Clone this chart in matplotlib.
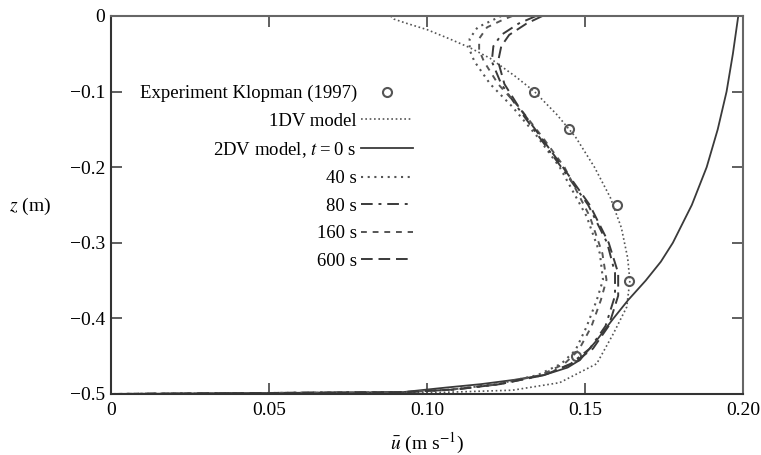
import matplotlib
matplotlib.use("Agg")
import matplotlib.pyplot as plt

plt.rcParams['font.family'] = ['Liberation Serif', 'DejaVu Serif']
plt.rcParams['mathtext.fontset'] = 'stix'

# Experimental data
exp_u = [0.134, 0.145, 0.160, 0.164, 0.147]
exp_z = [-0.10, -0.15, -0.25, -0.35, -0.45]

# 1DV model
z_1dv = [0.0, -0.004, -0.009, -0.018, -0.03, -0.042, -0.056, -0.08, -0.10, -0.13, -0.16,
         -0.20, -0.24, -0.28, -0.32, -0.35, -0.385, -0.42, -0.46, -0.485, -0.495, -0.4985, -0.5]
u_1dv = [0.0885, 0.0895, 0.093, 0.100, 0.107, 0.1136, 0.120, 0.128, 0.134, 0.141, 0.147,
         0.153, 0.158, 0.1615, 0.1635, 0.1642, 0.1632, 0.159, 0.1537, 0.142, 0.127, 0.100, 0.0]

# 2DV model, t = 0 s
z_t0 = [0.0, -0.05, -0.10, -0.15, -0.20, -0.25, -0.30, -0.325, -0.35, -0.376, -0.40, -0.43,
        -0.455, -0.465, -0.475, -0.4815, -0.487, -0.4915, -0.4947, -0.4975, -0.5]
u_t0 = [0.1985, 0.1968, 0.1948, 0.192, 0.1885, 0.1838, 0.1778, 0.1740, 0.1692, 0.1636, 0.159,
        0.1535, 0.1484, 0.1445, 0.137, 0.1272, 0.117, 0.106, 0.0987, 0.0924, 0.0]

# 40 s
z_40 = [0.0, -0.005, -0.015, -0.03, -0.045, -0.06, -0.09, -0.12, -0.16, -0.20, -0.265,
        -0.314, -0.349, -0.376, -0.411, -0.442, -0.46, -0.475, -0.487, -0.494, -0.4975, -0.5]
u_40 = [0.1235, 0.121, 0.116, 0.1135, 0.1135, 0.115, 0.120, 0.127, 0.135, 0.142, 0.1505,
        0.1547, 0.1557, 0.1537, 0.1505, 0.147, 0.1425, 0.135, 0.122, 0.108, 0.093, 0.0]

# 160 s
z_160 = z_40
u_160 = [0.127, 0.124, 0.119, 0.1165, 0.1165, 0.118, 0.1225, 0.129, 0.1365, 0.1435, 0.1515,
         0.1555, 0.1568, 0.155, 0.152, 0.148, 0.1435, 0.136, 0.1225, 0.108, 0.093, 0.0]

# 80 s
z_80 = [0.0, -0.01, -0.025, -0.04, -0.06, -0.09, -0.12, -0.16, -0.20, -0.25, -0.30,
        -0.34, -0.37, -0.41, -0.44, -0.46, -0.475, -0.487, -0.494, -0.4975, -0.5]
u_80 = [0.1345, 0.129, 0.1235, 0.121, 0.1205, 0.1235, 0.1285, 0.1355, 0.1425, 0.151, 0.157,
        0.1595, 0.1595, 0.1565, 0.1515, 0.1455, 0.137, 0.123, 0.109, 0.093, 0.0]

# 600 s
z_600 = z_80
u_600 = [0.1365, 0.1315, 0.126, 0.1235, 0.1225, 0.1245, 0.129, 0.136, 0.143, 0.1515, 0.1575,
         0.1605, 0.1605, 0.1575, 0.1525, 0.146, 0.137, 0.123, 0.109, 0.093, 0.0]

xticks = [0, 0.05, 0.10, 0.15, 0.20]
xticklabels = ['0', '0.05', '0.10', '0.15', '0.20']
yticks = [0, -0.1, -0.2, -0.3, -0.4, -0.5]
yticklabels = ['0', '\u22120.1', '\u22120.2', '\u22120.3', '\u22120.4', '\u22120.5']

W, H = 761, 455
fig = plt.figure(figsize=(W / 100, H / 100), dpi=100)
ax = fig.add_axes([111 / W, 1 - 394 / H, 632 / W, 378 / H])

c = '#3a3a3a'
ax.plot(exp_u, exp_z, linestyle='none', marker='o', markersize=6.5, markerfacecolor='none',
        markeredgecolor='#555555', markeredgewidth=1.5, label='Experiment Klopman (1997)')
ax.plot(u_1dv, z_1dv, color='#555555', lw=1.2, linestyle=(0, (1, 1.6)), label='1DV model')
ax.plot(u_t0, z_t0, color=c, lw=1.3, linestyle='-', label='2DV model, $t$\u2009=\u20090 s')
ax.plot(u_40, z_40, color='#555555', lw=1.5, linestyle=(0, (1, 2.2)), label='40 s')
ax.plot(u_80, z_80, color=c, lw=1.4, linestyle=(0, (6, 3, 1.5, 3)), label='80 s')
ax.plot(u_160, z_160, color='#555555', lw=1.4, linestyle=(0, (3, 3)), label='160 s')
ax.plot(u_600, z_600, color=c, lw=1.4, linestyle=(0, (6, 3)), label='600 s')

ax.set_xlim(0, 0.20)
ax.set_ylim(-0.5, 0)
ax.set_xticks(xticks)
ax.set_xticklabels(xticklabels)
ax.set_yticks(yticks)
ax.set_yticklabels(yticklabels)
ax.tick_params(direction='in', length=8, width=1.2, colors='#444444', labelcolor='black',
               labelsize=14, top=True, right=True)
ax.tick_params(axis='x', pad=6)
ax.tick_params(axis='y', pad=4)
for s in ['left', 'bottom']:
    ax.spines[s].set_color('#333333')
    ax.spines[s].set_linewidth(1.5)
for s in ['top', 'right']:
    ax.spines[s].set_color('#666666')
    ax.spines[s].set_linewidth(1.5)

ax.set_xlabel(r'$\bar{u}$ (m s$^{-1}$)', fontsize=14, labelpad=8)
ax.set_ylabel(r'$z$ (m)', fontsize=14, rotation=0, ha='center', va='center')
ax.yaxis.set_label_coords(-0.128, 0.495)

leg = ax.legend(loc='upper right', bbox_to_anchor=((413 - 111) / 632, (394 - 85) / 378),
                markerfirst=False, frameon=False, fontsize=13.5, handlelength=2.8,
                handletextpad=0.2, labelspacing=0.55, borderpad=0, borderaxespad=0,
                numpoints=1)

fig.savefig('out.png', dpi=100)
